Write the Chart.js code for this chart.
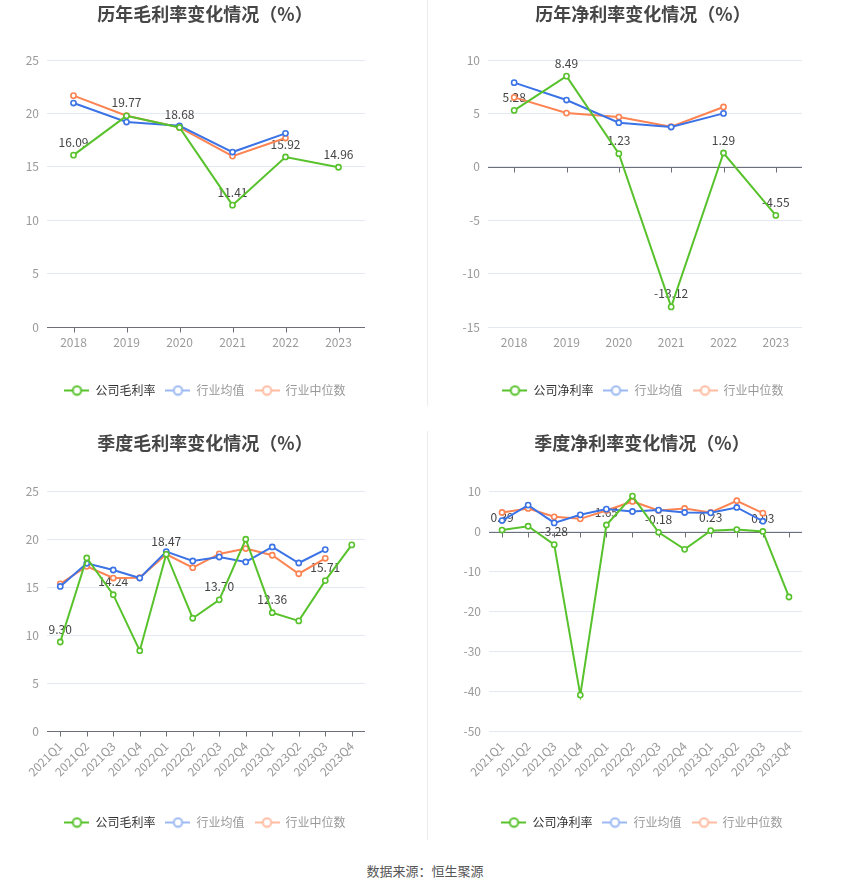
<!DOCTYPE html>
<html>
<head>
<meta charset="utf-8">
<script src="https://cdn.jsdelivr.net/npm/chart.js@4.4.0/dist/chart.umd.min.js"></script>
<style>
  html, body { margin: 0; padding: 0; background: #fff; }
  #wrap { position: relative; width: 850px; height: 891px; overflow: hidden; }
  canvas { position: absolute; }
  .divider { position: absolute; left: 427px; width: 1px; background: #ececec; }
  #source { position: absolute; top: 861px; left: 0; width: 850px; text-align: center;
            font: 13px "Noto Sans CJK SC", sans-serif; color: #555; }
</style>
</head>
<body>
<div id="wrap">
  <canvas id="c1" width="425" height="410" style="left:0;top:0"></canvas>
  <canvas id="c2" width="440" height="410" style="left:425px;top:0"></canvas>
  <canvas id="c3" width="425" height="410" style="left:0;top:430px"></canvas>
  <canvas id="c4" width="440" height="410" style="left:425px;top:430px"></canvas>
  <div class="divider" style="top:0;height:406px"></div>
  <div class="divider" style="top:431px;height:409px"></div>
  <div id="source">数据来源：恒生聚源</div>
</div>
<script>
const years = ["2018", "2019", "2020", "2021", "2022", "2023"];
const quarters = ["2021Q1", "2021Q2", "2021Q3", "2021Q4", "2022Q1", "2022Q2",
                  "2022Q3", "2022Q4", "2023Q1", "2023Q2", "2023Q3", "2023Q4"];

// 历年毛利率
const annualGross = [16.09, 19.77, 18.68, 11.41, 15.92, 14.96];
const annualGrossAvg = [20.97, 19.19, 18.84, 16.38, 18.13, null];
const annualGrossMed = [21.66, 19.78, 18.69, 16.0, 17.69, null];

// 历年净利率
const annualNet = [5.28, 8.49, 1.23, -13.12, 1.29, -4.55];
const annualNetAvg = [7.88, 6.25, 4.13, 3.72, 5.0, null];
const annualNetMed = [6.5, 5.03, 4.66, 3.75, 5.6, null];

// 季度毛利率
const quarterGross = [9.3, 18.08, 14.24, 8.39, 18.47, 11.78, 13.7, 20.03, 12.36, 11.5, 15.71, 19.44];
const quarterGrossAvg = [15.1, 17.52, 16.82, 15.98, 18.74, 17.76, 18.18, 17.66, 19.23, 17.55, 18.95, null];
const quarterGrossMed = [15.38, 17.2, 15.98, 16.01, 18.46, 17.06, 18.5, 19.06, 18.36, 16.43, 18.04, null];

// 季度净利率
const quarterNet = [0.39, 1.34, -3.28, -41.0, 1.65, 8.9, -0.18, -4.45, 0.23, 0.5, 0.03, -16.4];
const quarterNetAvg = [2.77, 6.64, 2.18, 4.2, 5.63, 5.04, 5.38, 4.79, 4.7, 6.05, 2.6, null];
const quarterNetMed = [4.79, 5.8, 3.7, 3.19, 5.3, 7.56, 5.3, 5.8, 4.79, 7.73, 4.62, null];

const GREEN = "#58c22c";
const BLUE = "#3b73e6";
const ORANGE = "#fd8352";

Chart.defaults.font.family = '"Noto Sans CJK SC", "Noto Sans", sans-serif';
Chart.defaults.devicePixelRatio = 1;

function legendSymbol(color) {
  const c = document.createElement("canvas");
  c.width = 25;
  c.height = 12;
  const g = c.getContext("2d");
  g.strokeStyle = color;
  g.lineWidth = 2;
  g.beginPath();
  g.moveTo(0, 6);
  g.lineTo(25, 6);
  g.stroke();
  g.beginPath();
  g.arc(12.5, 6, 4.2, 0, Math.PI * 2);
  g.fillStyle = "#fff";
  g.fill();
  g.stroke();
  return c;
}

// zero line with small tick marks, like the axis of the original
const zeroAxis = {
  id: "zeroAxis",
  beforeDatasetsDraw(chart) {
    const { ctx, chartArea, scales } = chart;
    const y0 = Math.round(scales.y.getPixelForValue(0)) + 0.5;
    ctx.save();
    ctx.strokeStyle = "#6e7079";
    ctx.lineWidth = 1;
    ctx.beginPath();
    ctx.moveTo(chartArea.left, y0);
    ctx.lineTo(chartArea.right, y0);
    scales.x.ticks.forEach((t, i) => {
      const x = Math.round(scales.x.getPixelForTick(i)) + 0.5;
      ctx.moveTo(x, y0);
      ctx.lineTo(x, y0 + 5);
    });
    ctx.stroke();
    ctx.restore();
  }
};

// value labels on the company series
const valueLabels = {
  id: "valueLabels",
  beforeDatasetsDraw(chart, args, opts) {
    const { ctx } = chart;
    const meta = chart.getDatasetMeta(0);
    const data = chart.data.datasets[0].data;
    ctx.save();
    ctx.font = '12px "Noto Sans CJK SC", sans-serif';
    ctx.fillStyle = "#444";
    ctx.textAlign = "center";
    ctx.textBaseline = "bottom";
    meta.data.forEach((pt, i) => {
      if (i % opts.every !== 0 || data[i] == null) return;
      ctx.fillText(data[i].toFixed(2), pt.x, pt.y - 7);
    });
    ctx.restore();
  }
};

function series(label, data, color) {
  return {
    label: label,
    data: data,
    borderColor: color,
    backgroundColor: "#fff",
    borderWidth: 2,
    pointRadius: 2.6,
    pointBorderWidth: 1.6,
    pointBackgroundColor: "#fff",
    pointBorderColor: color,
    tension: 0
  };
}

function makeChart(id, o) {
  new Chart(document.getElementById(id), {
    type: "line",
    data: {
      labels: o.labels,
      datasets: [
        series(o.company, o.values, GREEN),
        series("行业均值", o.avg, BLUE),
        series("行业中位数", o.med, ORANGE)
      ]
    },
    options: {
      responsive: false,
      animation: false,
      layout: { padding: o.pad },
      scales: {
        x: {
          offset: true,
          grid: { display: true, drawOnChartArea: false, drawTicks: true, tickLength: 5, color: "transparent", offset: false },
          border: { display: false },
          ticks: {
            color: "#9a9a9a",
            font: { size: 12 },
            padding: 3,
            autoSkip: false,
            minRotation: o.rotate,
            maxRotation: o.rotate
          },
          afterFit: s => { s.height = o.xHeight; }
        },
        y: {
          min: o.min,
          max: o.max,
          ticks: { stepSize: o.step, color: "#9a9a9a", font: { size: 12 }, padding: 8 },
          grid: { color: "#e3e8f2", drawTicks: false },
          border: { display: false },
          afterFit: s => { s.width = o.yWidth; }
        },
        // empty right-hand spacer so the title and legend centre like the original
        spacer: {
          type: "linear",
          position: "right",
          min: 0,
          max: 1,
          ticks: { display: false },
          grid: { display: false },
          border: { display: false },
          afterFit: s => { s.width = o.rightWidth; }
        }
      },
      plugins: {
        title: {
          display: true,
          text: o.title,
          color: "#464646",
          font: { size: 18, weight: "bold" },
          padding: o.titlePad
        },
        legend: {
          position: "bottom",
          labels: {
            usePointStyle: true,
            pointStyleWidth: 25,
            font: { size: 12 },
            padding: 10,
            generateLabels: () => [
              { text: o.company, fontColor: "#333", pointStyle: legendSymbol(GREEN), hidden: false, datasetIndex: 0, lineWidth: 0 },
              { text: "行业均值", fontColor: "#999", pointStyle: legendSymbol("#9cb9f3"), hidden: false, datasetIndex: 1, lineWidth: 0 },
              { text: "行业中位数", fontColor: "#999", pointStyle: legendSymbol("#ffbba0"), hidden: false, datasetIndex: 2, lineWidth: 0 }
            ]
          }
        },
        tooltip: { enabled: false },
        valueLabels: { every: o.every }
      }
    },
    plugins: [zeroAxis, valueLabels]
  });
}

makeChart("c1", {
  title: "历年毛利率变化情况（%）", company: "公司毛利率",
  labels: years, values: annualGross, avg: annualGrossAvg, med: annualGrossMed,
  min: 0, max: 25, step: 5, every: 1, rotate: 0,
  pad: { left: 0, right: 15, top: 0, bottom: 3.5 },
  titlePad: { top: 3.4, bottom: 35 }, xHeight: 47.5, yWidth: 47, rightWidth: 45
});

makeChart("c2", {
  title: "历年净利率变化情况（%）", company: "公司净利率",
  labels: years, values: annualNet, avg: annualNetAvg, med: annualNetMed,
  min: -15, max: 10, step: 5, every: 1, rotate: 0,
  pad: { left: 0, right: 4, top: 0, bottom: 3.5 },
  titlePad: { top: 3.4, bottom: 35 }, xHeight: 47.5, yWidth: 63, rightWidth: 59
});

makeChart("c3", {
  title: "季度毛利率变化情况（%）", company: "公司毛利率",
  labels: quarters, values: quarterGross, avg: quarterGrossAvg, med: quarterGrossMed,
  min: 0, max: 25, step: 5, every: 2, rotate: 45,
  pad: { left: 0, right: 15, top: 0, bottom: 1.5 },
  titlePad: { top: 2.4, bottom: 37.7 }, xHeight: 75.5, yWidth: 47, rightWidth: 45
});

makeChart("c4", {
  title: "季度净利率变化情况（%）", company: "公司净利率",
  labels: quarters, values: quarterNet, avg: quarterNetAvg, med: quarterNetMed,
  min: -50, max: 10, step: 10, every: 2, rotate: 45,
  pad: { left: 0, right: 6, top: 0, bottom: 1.5 },
  titlePad: { top: 2.4, bottom: 37.7 }, xHeight: 75.5, yWidth: 64, rightWidth: 57
});
</script>
</body>
</html>
